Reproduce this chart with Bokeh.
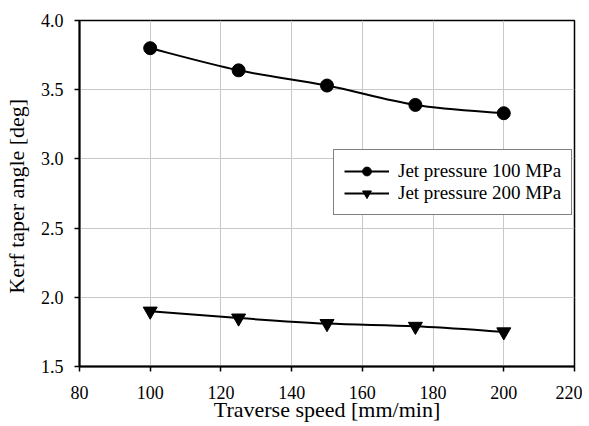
from bokeh.plotting import figure
from bokeh.models import Range1d, Legend, LegendItem, FixedTicker, CustomJSTickFormatter
from bokeh.embed import file_html
from bokeh.resources import INLINE

speed = [100, 125, 150, 175, 200]
taper_100 = [3.80, 3.64, 3.53, 3.39, 3.33]
taper_200 = [1.90, 1.85, 1.81, 1.79, 1.75]
x_ticks = [80, 100, 120, 140, 160, 180, 200, 220]
y_ticks = [1.5, 2.0, 2.5, 3.0, 3.5, 4.0]
names = ["Jet pressure 100 MPa", "Jet pressure 200 MPa"]

FONT = "Liberation Serif"


def smooth(xs, ys):
    # Catmull-Rom style smoothing (like a spreadsheet "smoothed line")
    n = len(xs)
    px = [xs[0]] + list(xs) + [xs[-1]]
    py = [ys[0]] + list(ys) + [ys[-1]]
    x0, y0, x1, y1, cx0, cy0, cx1, cy1 = [], [], [], [], [], [], [], []
    for i in range(1, n):
        x0.append(px[i]); y0.append(py[i])
        x1.append(px[i + 1]); y1.append(py[i + 1])
        cx0.append(px[i] + (px[i + 1] - px[i - 1]) / 6.0)
        cy0.append(py[i] + (py[i + 1] - py[i - 1]) / 6.0)
        cx1.append(px[i + 1] - (px[i + 2] - px[i]) / 6.0)
        cy1.append(py[i + 1] - (py[i + 2] - py[i]) / 6.0)
    return dict(x0=x0, y0=y0, x1=x1, y1=y1, cx0=cx0, cy0=cy0, cx1=cx1, cy1=cy1)


p = figure(frame_width=495, frame_height=346, output_backend="svg", toolbar_location=None,
           x_range=Range1d(80, 220), y_range=Range1d(1.5, 4.0),
           min_border_left=78, min_border_right=8, min_border_top=20,
           min_border_bottom=52)

p.background_fill_color = "white"
p.border_fill_color = "white"
p.outline_line_color = "black"
p.outline_line_width = 1.5

p.xaxis.ticker = FixedTicker(ticks=x_ticks)
p.yaxis.ticker = FixedTicker(ticks=y_ticks)
p.yaxis.formatter = CustomJSTickFormatter(code="return tick.toFixed(1);")

for ax in (p.xaxis[0], p.yaxis[0]):
    ax.axis_line_color = "black"
    ax.axis_line_width = 2
    ax.major_tick_line_color = "black"
    ax.major_tick_line_width = 1.5
    ax.major_tick_out = 5
    ax.major_tick_in = 0
    ax.minor_tick_line_color = None
    ax.major_label_text_font = FONT
    ax.major_label_text_font_size = "18px"
    ax.major_label_text_color = "black"
    ax.axis_label_text_font = FONT
    ax.axis_label_text_font_size = "22px"
    ax.axis_label_text_font_style = "normal"
    ax.axis_label_text_color = "black"

p.xaxis.axis_label = "Traverse speed [mm/min]"
p.yaxis.axis_label = "Kerf  taper angle [deg]"
p.xaxis.major_label_standoff = 14
p.xaxis.axis_label_standoff = -5
p.yaxis.major_label_standoff = 11
p.yaxis.axis_label_standoff = 9

p.xgrid.grid_line_color = "#c8c8c8"
p.ygrid.grid_line_color = "#c8c8c8"
p.xgrid.grid_line_width = 1
p.ygrid.grid_line_width = 1

b1 = p.bezier(source=smooth(speed, taper_100), x0="x0", y0="y0", x1="x1", y1="y1",
              cx0="cx0", cy0="cy0", cx1="cx1", cy1="cy1",
              line_color="black", line_width=2)
s1 = p.scatter(speed, taper_100, marker="circle", size=13,
               fill_color="black", line_color="black")
b2 = p.bezier(source=smooth(speed, taper_200), x0="x0", y0="y0", x1="x1", y1="y1",
              cx0="cx0", cy0="cy0", cx1="cx1", cy1="cy1",
              line_color="black", line_width=2)
s2 = p.scatter(speed, taper_200, marker="inverted_triangle", size=14,
               fill_color="black", line_color="black")

legend = Legend(items=[LegendItem(label=names[0], renderers=[b1, s1]),
                       LegendItem(label=names[1], renderers=[b2, s2])],
                location=(254, 151))
legend.label_text_font = FONT
legend.label_text_font_size = "19px"
legend.label_text_color = "black"
legend.border_line_color = "black"
legend.border_line_width = 1
legend.background_fill_alpha = 1
legend.padding = 10
legend.margin = 0
legend.spacing = 0
legend.glyph_width = 45
legend.glyph_height = 22
legend.label_height = 22
legend.label_standoff = 9
p.add_layout(legend)

open("out.html", "w").write(file_html(p, INLINE))
